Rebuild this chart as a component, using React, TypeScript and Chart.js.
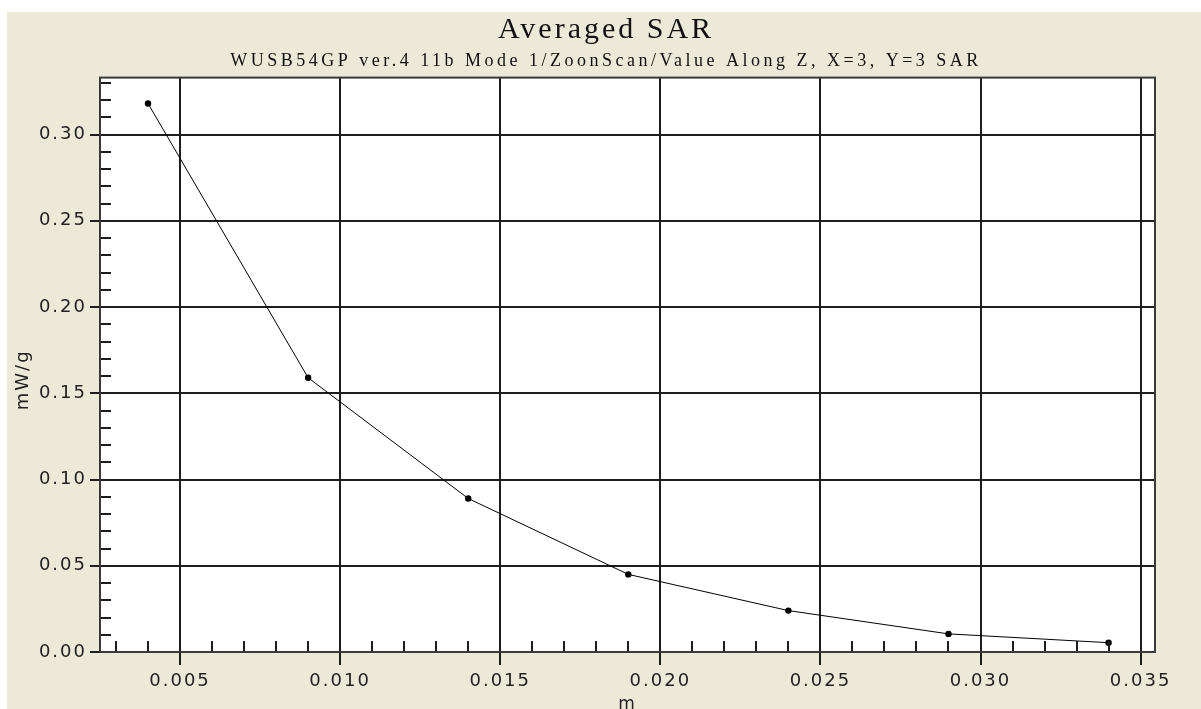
import React, { useEffect, useRef } from "react";
import { Chart, registerables } from "chart.js";
Chart.register(...registerables);

const depthM = [0.004, 0.009, 0.014, 0.019, 0.024, 0.029, 0.034];
const sarValues = [0.318, 0.159, 0.089, 0.045, 0.024, 0.0105, 0.0054];
const xTickValues = [0.005, 0.01, 0.015, 0.02, 0.025, 0.03, 0.035];
const yTickValues = [0, 0.05, 0.1, 0.15, 0.2, 0.25, 0.3];
const titleText = "Averaged SAR";
const subtitleText = "WUSB54GP ver.4 11b Mode 1/ZoonScan/Value Along Z, X=3, Y=3 SAR";
const xTitle = "m";
const yTitle = "mW/g";

const CANVAS_W = 1194;
const CANVAS_H = 720;

const TICK_SPACING = "2px";
const TITLE_SPACING = "3px";
const SUBTITLE_SPACING = "3.5px";
const HEADER_SHIFT = 25;

function withSpacing(ctx: any, spacing: string, fn: () => void) {
  const prev = ctx.letterSpacing;
  ctx.save();
  ctx.letterSpacing = spacing;
  ctx.translate(HEADER_SHIFT, 0);
  fn();
  ctx.restore();
  ctx.letterSpacing = prev;
}

const plotDecor = {
  id: "plotDecor",
  beforeUpdate(chart: any) {
    chart.ctx.letterSpacing = TICK_SPACING;
  },
  afterLayout(chart: any) {
    chart.boxes.forEach((box: any) => {
      if (box.__wrapped) return;
      const txt = box.options && box.options.text;
      let sp: string | null = null;
      if (txt === titleText) sp = TITLE_SPACING;
      else if (txt === subtitleText) sp = SUBTITLE_SPACING;
      if (sp) {
        const orig = box.draw.bind(box);
        const s = sp;
        box.draw = (area: any) => withSpacing(chart.ctx, s, () => orig(area));
        box.__wrapped = true;
      }
    });
    const ys = chart.scales.y;
    if (ys && !ys.__wrappedTitle) {
      const origTitle = ys.drawTitle.bind(ys);
      ys.drawTitle = () => {
        chart.ctx.save();
        chart.ctx.translate(0, 15);
        origTitle();
        chart.ctx.restore();
      };
      ys.__wrappedTitle = true;
    }
  },
  beforeDraw(chart: any) {
    const { ctx, chartArea } = chart;
    ctx.letterSpacing = TICK_SPACING;
    ctx.save();
    ctx.fillStyle = "#ffffff";
    ctx.fillRect(chartArea.left, chartArea.top, chartArea.right - chartArea.left, chartArea.bottom - chartArea.top);
    ctx.restore();
  },
  afterDraw(chart: any) {
    const { ctx, chartArea, scales } = chart;
    const { left, right, top, bottom } = chartArea;
    const x = scales.x;
    const y = scales.y;
    ctx.save();
    ctx.strokeStyle = "#1e1e1e";
    ctx.lineWidth = 2;
    ctx.beginPath();
    for (let i = Math.ceil(x.min / 0.001 - 1e-6); i * 0.001 <= x.max + 1e-9; i++) {
      if (i % 5 === 0) continue;
      const px = Math.round(x.getPixelForValue(i * 0.001));
      ctx.moveTo(px, bottom);
      ctx.lineTo(px, bottom - 11);
    }
    for (let i = 1; i * 0.01 <= y.max + 1e-9; i++) {
      if (i % 5 === 0) continue;
      const py = Math.round(y.getPixelForValue(i * 0.01));
      ctx.moveTo(left, py);
      ctx.lineTo(left + 11, py);
    }
    ctx.stroke();
    ctx.strokeStyle = "#3a3a3a";
    ctx.lineWidth = 2;
    ctx.strokeRect(left, top, right - left, bottom - top);
    ctx.restore();
  },
};

export default function App() {
  const ref = useRef<HTMLCanvasElement | null>(null);
  useEffect(() => {
    if (!ref.current) return;
    const chart = new Chart(ref.current, {
      type: "line",
      data: {
        datasets: [
          {
            data: depthM.map((v, i) => ({ x: v, y: sarValues[i] })),
            borderColor: "#000000",
            backgroundColor: "#000000",
            borderWidth: 1,
            pointRadius: 3.2,
            pointBorderWidth: 0,
            tension: 0,
          },
        ],
      },
      options: {
        responsive: false,
        animation: false,
        layout: { padding: { left: 0, right: 46, top: 0, bottom: 0 } },
        plugins: {
          legend: { display: false },
          tooltip: { enabled: false },
          title: {
            display: true,
            text: titleText,
            color: "#111111",
            font: { family: "'Liberation Serif', serif", size: 30, weight: "normal" },
            padding: { top: 0, bottom: 0 },
          },
          subtitle: {
            display: true,
            text: subtitleText,
            color: "#111111",
            font: { family: "'Liberation Serif', serif", size: 18, weight: "normal" },
            padding: { top: 2, bottom: 6 },
          },
        },
        scales: {
          x: {
            type: "linear",
            min: 0.0025,
            max: 0.03545,
            afterFit(scale: any) {
              scale.height = 80;
            },
            afterBuildTicks(scale: any) {
              scale.ticks = xTickValues.map((v) => ({ value: v }));
            },
            ticks: {
              autoSkip: false,
              maxRotation: 0,
              color: "#222222",
              padding: 6,
              font: { family: "'DejaVu Sans', sans-serif", size: 18 },
              callback: (v: any) => Number(v).toFixed(3),
            },
            grid: { color: "#1e1e1e", lineWidth: 2, tickLength: 13, tickColor: "#1e1e1e" },
            border: { color: "#3a3a3a", width: 2 },
            title: {
              display: true,
              text: xTitle,
              color: "#222222",
              font: { family: "'DejaVu Sans', sans-serif", size: 17 },
              padding: { top: 0, bottom: 17 },
            },
          },
          y: {
            type: "linear",
            min: 0,
            max: 0.333,
            afterFit(scale: any) {
              scale.width = 93;
            },
            afterBuildTicks(scale: any) {
              scale.ticks = yTickValues.map((v) => ({ value: v }));
            },
            ticks: {
              color: "#222222",
              padding: 3,
              font: { family: "'DejaVu Sans', sans-serif", size: 18 },
              callback: (v: any) => Number(v).toFixed(2),
            },
            grid: { color: "#1e1e1e", lineWidth: 2, tickLength: 10, tickColor: "#1e1e1e" },
            border: { color: "#3a3a3a", width: 2 },
            title: {
              display: true,
              text: yTitle,
              color: "#222222",
              font: { family: "'DejaVu Sans', sans-serif", size: 18 },
              padding: { top: 6, bottom: 0 },
            },
          },
        },
      },
      plugins: [plotDecor],
    } as any);
    return () => chart.destroy();
  }, []);

  return (
    <div
      style={{
        position: "fixed",
        left: 7,
        top: 12,
        width: CANVAS_W,
        height: 697,
        overflow: "hidden",
        background: "#ECE9D8",
      }}
    >
      <canvas ref={ref} width={CANVAS_W} height={CANVAS_H} style={{ display: "block" }} />
    </div>
  );
}
